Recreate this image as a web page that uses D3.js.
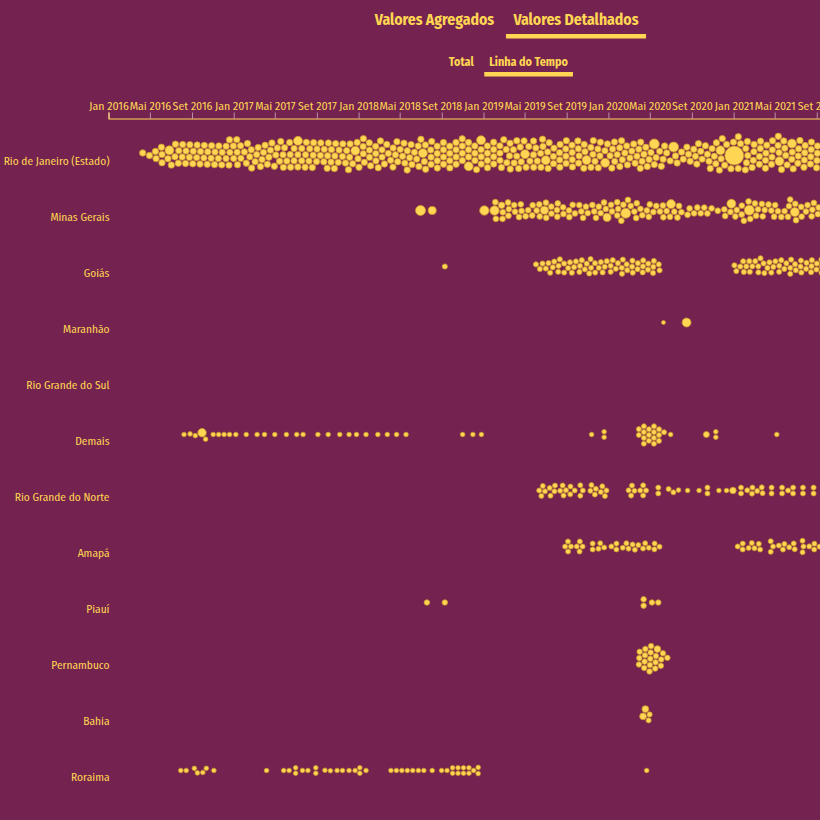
<!DOCTYPE html>
<html><head><meta charset="utf-8">
<script src="https://cdn.jsdelivr.net/npm/d3@7"></script>
<style>
html,body{margin:0;padding:0;background:#74224f;overflow:hidden}
svg{display:block}
</style></head><body>
<svg id="chart" width="820" height="820"></svg>
<script>
// ---------------- DATA ----------------
const states = ["Rio de Janeiro (Estado)", "Minas Gerais", "Goiás", "Maranhão", "Rio Grande do Sul",
  "Demais", "Rio Grande do Norte", "Amapá", "Piauí", "Pernambuco", "Bahia", "Roraima"];
const mainTabs = ["Valores Agregados", "Valores Detalhados"];
const subTabs = ["Total", "Linha do Tempo"];
const monthNames = ["Jan", "Fev", "Mar", "Abr", "Mai", "Jun", "Jul", "Ago", "Set", "Out", "Nov", "Dez"];
const timeStart = new Date(2016, 0, 1);
const timeEnd = new Date(2022, 0, 1);

// Monthly counts of contracts (months counted from Jan 2016)
const rioStart = 3;
const rioCounts = [1,3,4,5,6,6,6,6,6,6,6,6,
  6,7,6,6,7,6,6,7,6,6,7,6,
  6,7,6,6,7,6,6,7,6,6,7,6,
  6,7,6,6,7,6,6,6,6,6,6,6,
  6,6,4,2,4,5,5,6,6,5,6,6,
  7,6,6,7,6,6,7,6,6];
const minasStart = 37;
const minasCounts = [4,4,4,4,4,4,4,4,4,4,4,4,
  4,4,4,4,4,3,3,3,3,1,3,4,
  4,4,4,4,4,4,4,4,4,4,4];
const goiasStart1 = 41;
const goiasCounts1 = [3,5,5,5,5,5,5,5,5,5,5,5];
const goiasStart2 = 60;
const goiasCounts2 = [4,5,5,5,5,5,5,5,5,5,5,5];

// Individual dates / clumps: [months after Jan 2016, number of contracts, value]
const rioLarge = [[5.6,1,2.25],[18.1,1,2.25],[23.4,1,2.25],[29.9,1,2.25],[34.8,1,2.25],[35.6,1,2.25],
  [39.8,1,2.25],[41.9,1,2.25],[46.0,1,2.25],[47.7,1,2.25],[52.4,1,2.8],[54.0,1,2.8],[58.8,1,2.25],
  [60.1,1,10],[64.2,1,2.25],[65.8,1,2.25]];
const minasPoints = [[30.0,1,2.8],[31.1,1,1.8],[36.2,1,2.45],[37.2,1,2.45],[37.8,1,1.2],[42.0,1,1.8],
  [47.8,1,1.8],[49.5,1,2.8],[54.0,1,2.25],[59.9,1,2.25],[61.6,1,2.8],[66.0,1,2.25]];
const goiasPoints = [[32.3,1,0.75]];
const maranhaoPoints = [[53.3,1,0.45],[55.5,1,2.2]];
const rsPoints = [];
const demaisPoints = [[7.25,1,0.6],[7.9,1,0.6],[8.3,1,0.6],[9.0,1,2.0],[9.2,1,0.6],[10.1,1,0.6],[10.5,1,0.6],
  [11.1,1,0.6],[11.6,1,0.6],[12.2,1,0.6],[13.2,1,0.6],[14.3,1,0.6],[15.0,1,0.6],[16.0,1,0.6],[17.1,1,0.6],
  [18.1,1,0.6],[18.7,1,0.6],[20.1,1,0.6],[21.1,1,0.6],[22.2,1,0.6],[23.1,1,0.6],[23.8,1,0.6],[24.7,1,0.6],
  [25.9,1,0.6],[26.8,1,0.6],[27.7,1,0.6],[28.6,1,0.6],[34.0,1,0.6],[35.0,1,0.6],[35.8,1,0.6],[46.4,1,0.6],
  [47.6,2,0.6],[51.5,6,0.7],[52.1,7,0.7],[52.8,4,0.7],[54.0,1,0.6],[57.4,1,1.0],[58.3,2,0.6],[64.2,1,0.6]];
const rnPoints = [[41.7,4,0.7],[42.7,4,0.7],[43.6,4,0.7],[44.5,3,0.7],[45.4,3,0.7],[46.6,4,0.7],[47.5,4,0.7],
  [50.3,4,0.7],[51.3,4,0.7],[52.8,2,0.7],[53.9,1,0.7],[54.2,1,0.7],[54.7,1,0.6],[55.6,1,0.6],[56.7,1,0.6],
  [57.5,2,0.7],[58.6,1,0.6],[59.4,1,0.6],[59.9,1,1.2],[60.7,2,0.7],[61.7,3,0.7],[62.6,3,0.7],[63.7,2,0.7],
  [64.7,2,0.7],[65.6,3,0.7],[66.7,2,0.7],[67.7,2,0.7]];
const amapaPoints = [[44.2,4,0.7],[45.2,4,0.7],[46.5,2,0.7],[47.3,3,0.7],[48.6,3,0.7],[49.7,3,0.7],[50.6,3,0.7],
  [51.6,3,0.7],[52.6,3,0.7],[60.7,3,0.7],[61.8,3,0.7],[62.5,2,0.7],[63.7,3,0.7],[64.7,3,0.7],[65.7,3,0.7],
  [66.7,3,0.7],[67.6,3,0.7],[68.6,3,0.7]];
const piauiPoints = [[30.6,1,0.85],[32.3,1,0.85],[51.4,2,0.85],[52.2,1,0.85],[52.8,1,0.85]];
const pernambucoPoints = [[51.5,7,0.85],[52.2,8,0.85],[52.6,1,1.3],[53.0,4,0.85]];
const bahiaPoints = [[51.6,2,1.3],[51.7,2,0.75]];
const roraimaPoints = [[7.0,1,0.6],[7.4,1,0.6],[8.3,1,0.6],[8.6,1,0.6],[9.0,1,0.6],[9.3,1,0.6],[10.1,1,0.6],
  [15.2,1,0.6],[16.9,1,0.6],[17.3,1,0.6],[18.0,2,0.6],[18.7,1,0.6],[19.1,1,0.6],[19.9,2,0.6],[20.9,1,0.6],
  [21.2,1,0.6],[22.0,1,0.6],[22.4,1,0.6],[23.1,1,0.6],[23.7,1,0.6],[24.1,2,0.6],[24.7,1,0.6],[27.2,1,0.6],
  [27.7,1,0.6],[28.2,1,0.6],[28.7,1,0.6],[29.2,1,0.6],[29.8,1,0.6],[30.3,1,0.6],[31.1,1,0.6],[32.0,1,0.6],
  [32.5,1,0.6],[33.1,2,0.6],[33.6,2,0.6],[34.1,2,0.6],[34.6,2,0.6],[35.3,3,0.6],[51.7,1,0.6]];

// ------------- tables built from the arrays -------------
const bandsByState = {
  "Rio de Janeiro (Estado)": [[rioStart, rioCounts, 1.15]],
  "Minas Gerais": [[minasStart, minasCounts, 0.95]],
  "Goiás": [[goiasStart1, goiasCounts1, 0.75], [goiasStart2, goiasCounts2, 0.75]]
};
const pointsByState = {
  "Rio de Janeiro (Estado)": rioLarge, "Minas Gerais": minasPoints, "Goiás": goiasPoints,
  "Maranhão": maranhaoPoints, "Rio Grande do Sul": rsPoints, "Demais": demaisPoints,
  "Rio Grande do Norte": rnPoints, "Amapá": amapaPoints, "Piauí": piauiPoints,
  "Pernambuco": pernambucoPoints, "Bahia": bahiaPoints, "Roraima": roraimaPoints
};

// ---------------- STYLE ----------------
const BG = "#74224f", YEL = "#ffd653", STROKE = "#c9962e";
const ctx = document.createElement("canvas").getContext("2d");
function hasFont(f) {
  const s = "Rio de Janeiro 2016 Wg";
  ctx.font = "40px monospace"; const a = ctx.measureText(s).width;
  ctx.font = `40px "${f}", monospace`; const b = ctx.measureText(s).width;
  return Math.abs(a - b) > 0.5;
}
const family = ["Fira Sans Condensed", "Liberation Sans Narrow", "DejaVu Sans Condensed", "Roboto", "Liberation Sans"].find(hasFont) || "sans-serif";
const FF = `"${family}", sans-serif`;
function fit(text, weight, target) {
  ctx.font = `${weight} 20px ${FF}`;
  return 20 * target / ctx.measureText(text).width;
}

const svg = d3.select("#chart").style("background", BG);
svg.append("rect").attr("width", 820).attr("height", 820).attr("fill", BG);

// ---------------- TABS ----------------
const mainSize = fit(mainTabs[1], "bold", 125.3);
const mainX = [434.5, 576];
const mainG = svg.append("g").attr("font-family", FF).attr("font-weight", "bold")
  .attr("font-size", mainSize).attr("fill", YEL).attr("text-anchor", "middle");
mainG.selectAll("text").data(mainTabs).join("text")
  .attr("x", (d, i) => mainX[i]).attr("y", 25).text(d => d);
const mainW = mainG.selectAll("text").nodes()[1].getComputedTextLength();
svg.append("rect").attr("x", mainX[1] - mainW / 2 - 7.5).attr("y", 34).attr("width", mainW + 15)
  .attr("height", 4.5).attr("fill", YEL);

const subSize = fit(subTabs[1], "bold", 78.7);
const subX = [461.3, 528.6];
const subG = svg.append("g").attr("font-family", FF).attr("font-weight", "bold")
  .attr("font-size", subSize).attr("fill", YEL).attr("text-anchor", "middle");
subG.selectAll("text").data(subTabs).join("text")
  .attr("x", (d, i) => subX[i]).attr("y", 65.5).text(d => d);
const subW = subG.selectAll("text").nodes()[1].getComputedTextLength();
svg.append("rect").attr("x", subX[1] - subW / 2 - 5).attr("y", 72).attr("width", subW + 10)
  .attr("height", 4.5).attr("fill", YEL);

// ---------------- SCALES ----------------
const x = d3.scaleTime().domain([timeStart, timeEnd]).range([108.5, 858.5]);
const y = d3.scalePoint().domain(states).range([154.5, 770.5]);
const rScale = d3.scaleSqrt().domain([0, 10]).range([0, 9.5]);
function monthDate(m) {
  const d0 = d3.timeMonth.offset(timeStart, Math.floor(m));
  const d1 = d3.timeMonth.offset(d0, 1);
  return new Date(+d0 + (m - Math.floor(m)) * (d1 - d0));
}

// ---------------- AXIS ----------------
const axisSize = fit("Jan 2016", "normal", 39.5);
const axis = d3.axisTop(x).ticks(d3.timeMonth.every(4))
  .tickFormat(d => monthNames[d.getMonth()] + " " + d.getFullYear())
  .tickSize(6).tickSizeOuter(6).tickPadding(3);
const axG = svg.append("g").attr("transform", "translate(0,118.5)").call(axis);
axG.selectAll(".tick line").attr("stroke", "rgba(255,255,255,0.5)");
axG.select(".domain").attr("stroke", YEL).attr("stroke-width", 1.2);
axG.selectAll(".tick text").attr("fill", YEL).attr("font-family", FF).attr("font-size", axisSize);

// ---------------- ROW LABELS ----------------
const labelSize = fit("Rio de Janeiro (Estado)", "normal", 106);
svg.append("g").attr("font-family", FF).attr("font-size", labelSize).attr("fill", YEL)
  .attr("text-anchor", "end")
  .selectAll("text").data(states).join("text")
  .attr("x", 109.5).attr("y", d => y(d) + 7).attr("dy", "0.35em").text(d => d);

// ---------------- BEESWARM ----------------
const dotsG = svg.append("g");
states.forEach(state => {
  const nodes = [];
  (bandsByState[state] || []).forEach(([start, counts, v]) => {
    counts.forEach((n, k) => {
      for (let i = 0; i < n; i++) nodes.push({ m: start + k + (i + 0.5) / n, v });
    });
  });
  (pointsByState[state] || []).forEach(([m, n, v]) => {
    for (let i = 0; i < n; i++) nodes.push({ m, v });
  });
  if (!nodes.length) return;
  const cy = y(state);
  nodes.forEach((d, i) => {
    d.r = rScale(d.v);
    d.tx = x(monthDate(d.m));
    d.x = d.tx + ((i % 3) - 1) * 1.2;
    d.y = cy + ((i % 5) - 2) * 1.5;
  });
  const sim = d3.forceSimulation(nodes)
    .force("x", d3.forceX(d => d.tx).strength(0.25))
    .force("y", d3.forceY(cy).strength(0.12))
    .force("collide", d3.forceCollide(d => d.r + 0.4).iterations(3))
    .stop();
  for (let i = 0; i < 400; i++) sim.tick();
  dotsG.append("g").selectAll("circle").data(nodes).join("circle")
    .attr("cx", d => d.x).attr("cy", d => d.y).attr("r", d => d.r)
    .attr("fill", YEL).attr("stroke", STROKE).attr("stroke-width", 0.8);
});
</script>
</body></html>
